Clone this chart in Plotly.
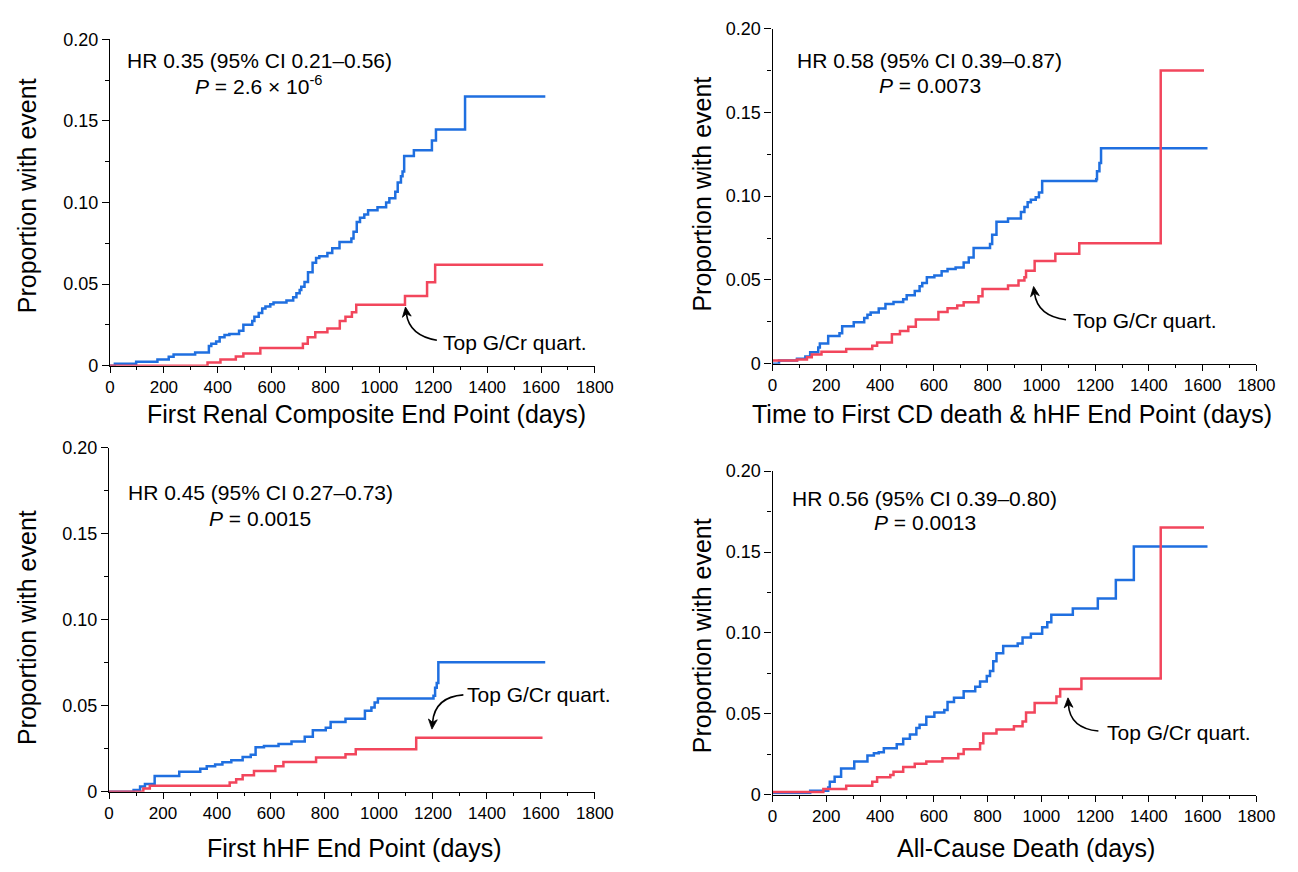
import plotly.graph_objects as go

W, H = 1298, 872

# ---------------- data (days, cumulative proportion with event) ----------------
renal_other_t = [0, 18, 97, 176, 218, 236, 316, 367, 376, 394, 407, 425, 443, 479, 495, 528, 536, 552,
                 565, 577, 595, 607, 655, 680, 692, 704, 710, 722, 735, 752, 765, 777, 807, 825, 852,
                 896, 904, 916, 928, 944, 958, 993, 1025, 1037, 1059, 1068, 1080, 1086, 1092, 1128,
                 1195, 1210, 1318, 1616]
renal_other_y = [0, 0.0012, 0.0024, 0.0038, 0.0054, 0.0068, 0.008, 0.012, 0.0134, 0.0148, 0.0174, 0.0188,
                 0.0194, 0.0214, 0.0251, 0.0273, 0.03, 0.0323, 0.035, 0.0363, 0.0377, 0.0387, 0.040,
                 0.0419, 0.0443, 0.0463, 0.0483, 0.0513, 0.0573, 0.063, 0.066, 0.067, 0.069, 0.072,
                 0.0758, 0.078, 0.082, 0.088, 0.0906, 0.0926, 0.0952, 0.097, 0.1, 0.1026, 0.1066,
                 0.1122, 0.116, 0.119, 0.1285, 0.132, 0.138, 0.1447, 0.165, 0.165]
renal_top_t = [0, 362, 410, 467, 495, 558, 716, 734, 762, 807, 853, 874, 898, 914, 1095, 1177, 1207, 1608]
renal_top_y = [0, 0.002, 0.0038, 0.0056, 0.0074, 0.0108, 0.0134, 0.0174, 0.0204, 0.0228, 0.0273, 0.03,
               0.0327, 0.0373, 0.0427, 0.0511, 0.0619, 0.0619]

cd_other_t = [0, 24, 91, 122, 140, 170, 176, 207, 249, 259, 302, 341, 353, 365, 395, 420, 450, 486, 499,
              529, 547, 557, 574, 602, 629, 651, 681, 711, 730, 748, 809, 817, 833, 876, 924, 937, 949,
              961, 979, 991, 1003, 1204, 1207, 1216, 1222, 1618]
cd_other_y = [0, 0.0019, 0.0029, 0.0043, 0.0068, 0.0097, 0.0121, 0.0166, 0.0181, 0.0224, 0.0247, 0.0273,
              0.0292, 0.0306, 0.0329, 0.0356, 0.0368, 0.0384, 0.0409, 0.0434, 0.0462, 0.0481, 0.0516,
              0.0526, 0.0551, 0.0565, 0.0574, 0.0604, 0.0633, 0.0691, 0.0715, 0.0769, 0.0847, 0.0867,
              0.0906, 0.0935, 0.0964, 0.0978, 0.0993, 0.1022, 0.1091, 0.110, 0.1149, 0.1198, 0.1285,
              0.1285]
cd_top_t = [0, 91, 128, 146, 182, 274, 371, 389, 444, 474, 505, 533, 617, 651, 687, 711, 766, 781, 876,
            915, 937, 943, 975, 1052, 1141, 1444, 1605]
cd_top_y = [0.0019, 0.0025, 0.0039, 0.0055, 0.0072, 0.0088, 0.0107, 0.0127, 0.0175, 0.0195, 0.022,
            0.0263, 0.0308, 0.0331, 0.0347, 0.0366, 0.0403, 0.0446, 0.0467, 0.0497, 0.0516, 0.0555,
            0.0613, 0.0656, 0.0719, 0.1749, 0.1749]

hhf_other_t = [0, 91, 115, 133, 169, 260, 338, 362, 393, 420, 453, 495, 525, 543, 574, 628, 676, 725,
               755, 803, 821, 876, 948, 972, 984, 996, 1202, 1208, 1214, 1220, 1616]
hhf_other_y = [0, 0.001, 0.003, 0.0044, 0.0091, 0.0116, 0.0133, 0.0148, 0.0158, 0.0171, 0.0182, 0.0201,
               0.0215, 0.0258, 0.0266, 0.0277, 0.0291, 0.0319, 0.0357, 0.0372, 0.0405, 0.0424, 0.0471,
               0.049, 0.0519, 0.0541, 0.0557, 0.0604, 0.0632, 0.0752, 0.0752]
hhf_top_t = [0, 127, 151, 447, 471, 495, 537, 616, 646, 767, 876, 914, 1138, 1606]
hhf_top_y = [0, 0.0019, 0.0034, 0.0053, 0.0072, 0.0095, 0.012, 0.0148, 0.0173, 0.0199, 0.0218, 0.0247,
             0.0313, 0.0313]

acd_other_t = [0, 140, 207, 213, 231, 255, 304, 353, 377, 395, 414, 462, 486, 511, 535, 547, 572, 602,
               639, 651, 675, 711, 754, 772, 797, 809, 821, 833, 858, 912, 930, 961, 1003, 1022, 1037,
               1117, 1210, 1277, 1344, 1618]
acd_other_y = [0.001, 0.0024, 0.0044, 0.008, 0.011, 0.0161, 0.0205, 0.0241, 0.0255, 0.0261, 0.0287,
               0.0312, 0.0346, 0.0372, 0.0412, 0.0432, 0.0482, 0.0507, 0.0523, 0.0573, 0.0599, 0.0639,
               0.0667, 0.07, 0.0734, 0.0764, 0.0824, 0.0874, 0.0919, 0.0935, 0.0971, 0.0995, 0.1035,
               0.1065, 0.1112, 0.115, 0.1212, 0.1327, 0.1534, 0.1534]
acd_top_t = [0, 189, 274, 371, 389, 438, 450, 486, 529, 572, 632, 691, 711, 772, 784, 833, 898, 930,
             943, 975, 1056, 1070, 1149, 1444, 1605]
acd_top_y = [0.0016, 0.0034, 0.0054, 0.008, 0.0107, 0.0121, 0.0141, 0.0171, 0.0191, 0.0205, 0.0225,
             0.0251, 0.0281, 0.0318, 0.0378, 0.0402, 0.0422, 0.0452, 0.0507, 0.0567, 0.0607, 0.0653,
             0.0718, 0.1652, 0.1652]

x_ticks = [0, 200, 400, 600, 800, 1000, 1200, 1400, 1600, 1800]
y_ticks = [0, 0.05, 0.10, 0.15, 0.20]
y_ticktext = ["0", "0.05", "0.10", "0.15", "0.20"]

x_titles = ["First Renal Composite End Point (days)",
            "Time to First CD death & hHF End Point (days)",
            "First hHF End Point (days)",
            "All-Cause Death (days)"]
hr_lines = ["HR 0.35 (95% CI 0.21–0.56)", "HR 0.58 (95% CI 0.39–0.87)",
            "HR 0.45 (95% CI 0.27–0.73)", "HR 0.56 (95% CI 0.39–0.80)"]
p_lines = ["<i>P</i> = 2.6 × 10<sup>-6</sup>", "<i>P</i> = 0.0073",
           "<i>P</i> = 0.0015", "<i>P</i> = 0.0013"]
callout = "Top G/Cr quart."

series = [
    (renal_other_t, renal_other_y, renal_top_t, renal_top_y),
    (cd_other_t, cd_other_y, cd_top_t, cd_top_y),
    (hhf_other_t, hhf_other_y, hhf_top_t, hhf_top_y),
    (acd_other_t, acd_other_y, acd_top_t, acd_top_y),
]

BLUE = "#1f6fe0"
RED = "#f2465c"
FONT = "Liberation Sans, Arial, sans-serif"


def fx(x):
    return x / W


def fy(y):
    return 1 - y / H


# plot areas in pixels: (left, right, top, bottom)
boxes = [(107, 601, 30, 364), (782, 1275, 19, 362), (106, 601, 448, 800), (782, 1275, 472, 803)]

fig = go.Figure()
layout = dict(width=W, height=H, margin=dict(l=0, r=0, t=0, b=0),
              paper_bgcolor="white", plot_bgcolor="white",
              font=dict(family=FONT, color="black"), showlegend=False)

for i, (ot, oy, tt, ty) in enumerate(series):
    sfx = "" if i == 0 else str(i + 1)
    fig.add_trace(go.Scatter(x=ot, y=oy, mode="lines", name="Other quartiles",
                             line=dict(color=BLUE, width=2.5, shape="hv"),
                             xaxis="x" + sfx, yaxis="y" + sfx))
    fig.add_trace(go.Scatter(x=tt, y=ty, mode="lines", name="Top G/Cr quartile",
                             line=dict(color=RED, width=2.5, shape="hv"),
                             xaxis="x" + sfx, yaxis="y" + sfx))
    l, r, t, b = boxes[i]
    layout["xaxis" + sfx] = dict(
        domain=[fx(l), fx(r)], anchor="y" + sfx, range=[0, 1800],
        tickvals=x_ticks, ticks="outside", ticklen=6, tickwidth=1.3, tickcolor="black",
        showline=True, linecolor="black", linewidth=1.3, showgrid=False, zeroline=False,
        tickfont=dict(size=17, family=FONT, color="black"),
        minor=dict(dtick=100, tick0=0, ticks="outside", ticklen=3, tickwidth=1.3, tickcolor="black"))
    layout["yaxis" + sfx] = dict(
        domain=[fy(b), fy(t)], anchor="x" + sfx, range=[0, 0.2],
        tickvals=y_ticks, ticktext=y_ticktext, ticks="outside", ticklen=7, tickwidth=1.3,
        tickcolor="black", showline=True, linecolor="black", linewidth=1.3, showgrid=False,
        zeroline=False, tickfont=dict(size=18, family=FONT, color="black"),
        minor=dict(dtick=0.025, tick0=0, ticks="outside", ticklen=4, tickwidth=1.3, tickcolor="black"))

annotations = []
# axis titles
xt_pos = [(368, 413), (1026, 413), (356, 858), (1040, 858)]
yt_pos = [(22, 190), (710, 188), (22, 632), (710, 640)]
for i in range(4):
    annotations.append(dict(text=x_titles[i], x=fx(xt_pos[i][0]), y=fy(xt_pos[i][1]), xref="paper",
                            yref="paper", showarrow=False, xanchor="center", yanchor="middle",
                            font=dict(size=25, family=FONT, color="black")))
    annotations.append(dict(text="Proportion with event", x=fx(yt_pos[i][0]), y=fy(yt_pos[i][1]),
                            xref="paper", yref="paper", showarrow=False, textangle=-90,
                            xanchor="center", yanchor="middle",
                            font=dict(size=25, family=FONT, color="black")))

# HR / P text
hr_pos = [(259, 52, 77), (942, 52, 77), (260, 494, 520), (937, 500, 525)]
for i in range(4):
    cx, y1, y2 = hr_pos[i]
    annotations.append(dict(text=hr_lines[i], x=fx(cx), y=fy(y1), xref="paper", yref="paper",
                            showarrow=False, xanchor="center", yanchor="middle",
                            font=dict(size=21, family=FONT, color="black")))
    annotations.append(dict(text=p_lines[i], x=fx(cx), y=fy(y2), xref="paper", yref="paper",
                            showarrow=False, xanchor="center", yanchor="middle",
                            font=dict(size=21, family=FONT, color="black")))

# call-outs with curved arrows (curve + filled arrowhead drawn as shapes)
call_text = [(444, 340), (1086, 318), (469, 701), (1121, 739)]
curves = [((440, 338), (412, 333), (408, 304)),
          ((1081, 317), (1052, 313), (1048, 283)),
          ((467, 701), (438, 703), (435, 736)),
          ((1114, 738), (1085, 735), (1083, 704))]
shapes = []
for i in range(4):
    tx, ty_ = call_text[i]
    annotations.append(dict(text=callout, x=fx(tx), y=fy(ty_), xref="paper", yref="paper",
                            showarrow=False, xanchor="left", yanchor="middle",
                            font=dict(size=21, family=FONT, color="black")))
    (x0, y0), (cx, cy), (x1, y1) = curves[i]
    dx, dy = cx - x1, cy - y1
    n = (dx * dx + dy * dy) ** 0.5
    ux, uy = dx / n, dy / n
    # curve stops at the arrowhead base
    bx, by = x1 + ux * 7, y1 + uy * 7
    shapes.append(dict(type="path", xref="paper", yref="paper",
                       path=f"M {fx(x0)},{fy(y0)} Q {fx(cx)},{fy(cy)} {fx(bx)},{fy(by)}",
                       line=dict(color="black", width=1.6)))
    px_, py_ = -uy, ux
    hl, hw = 10, 4.5
    b1 = (x1 + ux * hl + px_ * hw, y1 + uy * hl + py_ * hw)
    b2 = (x1 + ux * hl - px_ * hw, y1 + uy * hl - py_ * hw)
    notch = (x1 + ux * hl * 0.7, y1 + uy * hl * 0.7)
    shapes.append(dict(type="path", xref="paper", yref="paper",
                       path=(f"M {fx(x1)},{fy(y1)} L {fx(b1[0])},{fy(b1[1])} "
                             f"L {fx(notch[0])},{fy(notch[1])} L {fx(b2[0])},{fy(b2[1])} Z"),
                       fillcolor="black", line=dict(color="black", width=0.8)))

layout["annotations"] = annotations
layout["shapes"] = shapes
fig.update_layout(**layout)
fig.write_html("out.html")
